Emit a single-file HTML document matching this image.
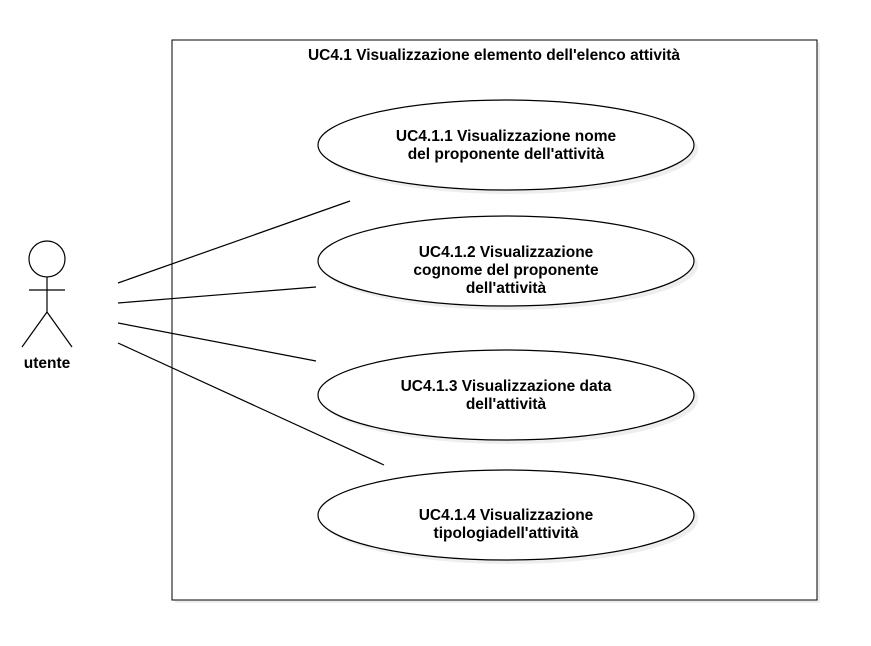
<!DOCTYPE html>
<html><head><style>body{margin:0;background:#fff}</style></head><body>
<svg width="871" height="641" xmlns="http://www.w3.org/2000/svg" font-family="Liberation Sans, Helvetica, sans-serif" font-weight="bold" font-size="15.5">
<rect x="175" y="43" width="645" height="560" fill="#eee"/>
<rect x="172" y="40" width="645" height="560" fill="#fff" stroke="#000"/>
<g fill="#fff" stroke="#000" stroke-width="1.2">
<ellipse cx="510" cy="149" rx="188" ry="45" fill="#eee" stroke="none"/>
<ellipse cx="506" cy="145" rx="188" ry="45"/>
<ellipse cx="510" cy="265" rx="188" ry="45" fill="#eee" stroke="none"/>
<ellipse cx="506" cy="261" rx="188" ry="45"/>
<ellipse cx="510" cy="399" rx="188" ry="45" fill="#eee" stroke="none"/>
<ellipse cx="506" cy="395" rx="188" ry="45"/>
<ellipse cx="510" cy="519" rx="188" ry="45" fill="#eee" stroke="none"/>
<ellipse cx="506" cy="515" rx="188" ry="45"/>
</g>
<g text-anchor="middle">
<text x="494" y="60">UC4.1 Visualizzazione elemento dell'elenco attività</text>
<text x="506" y="141">UC4.1.1 Visualizzazione nome</text>
<text x="506" y="159">del proponente dell'attività</text>
<text x="506" y="257">UC4.1.2 Visualizzazione</text>
<text x="506" y="275">cognome del proponente</text>
<text x="506" y="293">dell'attività</text>
<text x="506" y="391">UC4.1.3 Visualizzazione data</text>
<text x="506" y="409">dell'attività</text>
<text x="506" y="520">UC4.1.4 Visualizzazione</text>
<text x="506" y="538">tipologiadell'attività</text>
<text x="47" y="368">utente</text>
</g>
<g stroke="#000" stroke-width="1.2" fill="none">
<circle cx="47" cy="259" r="18" fill="#fff"/>
<line x1="47" y1="277" x2="47" y2="312"/>
<line x1="29" y1="290" x2="65" y2="290"/>
<line x1="47" y1="312" x2="22" y2="347"/>
<line x1="47" y1="312" x2="72" y2="347"/>
<line x1="118" y1="283" x2="350" y2="201"/>
<line x1="118" y1="303" x2="316" y2="287"/>
<line x1="118" y1="323" x2="316" y2="361"/>
<line x1="118" y1="343" x2="384" y2="465"/>
</g>
</svg>
</body></html>
